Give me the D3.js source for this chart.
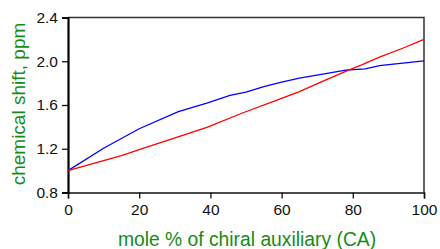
<!DOCTYPE html>
<html>
<head>
<meta charset="utf-8">
<script src="https://cdn.jsdelivr.net/npm/d3@7"></script>
<style>
  body { margin: 0; background: #fff; }
  svg { display: block; font-family: "Liberation Sans", Arial, sans-serif; }
</style>
</head>
<body>
<svg width="440" height="249"></svg>
<script>
// values
const blueX = [0, 10, 20, 31, 39, 45.5, 50, 55, 60, 65, 72, 78, 83.5, 87.5, 100];
const blueY = [1.0, 1.205, 1.383, 1.54, 1.618, 1.687, 1.718, 1.769, 1.809, 1.845, 1.885, 1.918, 1.93, 1.96, 2.003];
const redX = [0, 15, 20, 32, 39, 49, 60, 65, 71, 79, 82.5, 87.5, 94, 100];
const redY = [1.0, 1.137, 1.192, 1.32, 1.395, 1.527, 1.66, 1.723, 1.809, 1.921, 1.967, 2.037, 2.119, 2.2];
const xTicks = [0, 20, 40, 60, 80, 100];
const yTicks = [0.8, 1.2, 1.6, 2.0, 2.4];

const svg = d3.select("svg");
const margin = {left: 68, right: 424, top: 17.5, bottom: 192.5};
const green = "#168c16";

const x = d3.scaleLinear().domain([0, 100]).range([margin.left, margin.right]);
const y = d3.scaleLinear().domain([0.8, 2.4]).range([margin.bottom, margin.top]);

// frame: thin top/right
svg.append("path")
    .attr("d", `M${margin.left},${margin.top}H${margin.right}V${margin.bottom}`)
    .attr("fill", "none")
    .attr("stroke", "#333")
    .attr("stroke-width", 1.5);

const xAxis = svg.append("g")
    .attr("transform", `translate(0,${margin.bottom})`)
    .call(d3.axisBottom(x).tickValues(xTicks).tickSize(6).tickPadding(5).tickFormat(d3.format("d")));

const yAxis = svg.append("g")
    .attr("transform", `translate(${margin.left},0)`)
    .call(d3.axisLeft(y).tickValues(yTicks).tickSize(6).tickPadding(4).tickFormat(d3.format(".1f")));

[xAxis, yAxis].forEach(g => {
    g.selectAll("text").attr("font-size", 15.5).attr("font-family", "Liberation Sans, Arial, sans-serif").attr("fill", "#111");
    g.selectAll("line").attr("stroke", "#111").attr("stroke-width", 1.3);
});
xAxis.select(".domain").attr("stroke", "#111").attr("stroke-width", 1.5);
yAxis.select(".domain").attr("stroke", "#000").attr("stroke-width", 2.2);

const line = d3.line()
    .x(d => x(d[0]))
    .y(d => y(d[1]));

svg.append("path")
    .attr("d", line(d3.zip(blueX, blueY)))
    .attr("fill", "none")
    .attr("stroke", "#0000ff")
    .attr("stroke-width", 1.3);

svg.append("path")
    .attr("d", line(d3.zip(redX, redY)))
    .attr("fill", "none")
    .attr("stroke", "#ff0000")
    .attr("stroke-width", 1.3);

svg.append("text")
    .attr("x", 247)
    .attr("y", 246)
    .attr("text-anchor", "middle")
    .attr("font-size", 19.3)
    .attr("fill", green)
    .text("mole % of chiral auxiliary (CA)");

svg.append("text")
    .attr("transform", "translate(25,104) rotate(-90)")
    .attr("text-anchor", "middle")
    .attr("font-size", 19)
    .attr("fill", green)
    .text("chemical shift, ppm");
</script>
</body>
</html>
